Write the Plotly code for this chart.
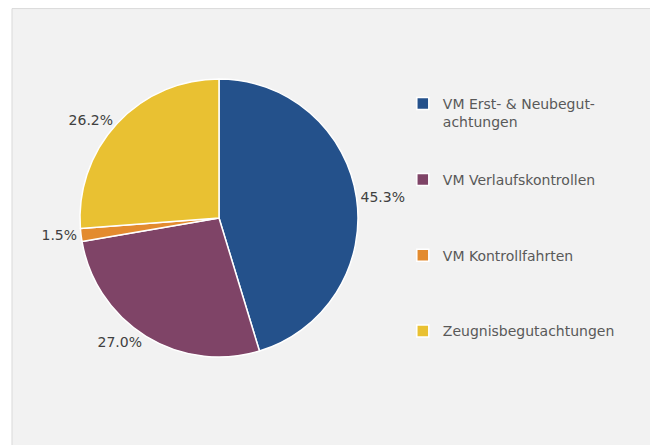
import plotly.graph_objects as go

categories = ["VM Erst- & Neubegut-<br>achtungen", "VM Verlaufskontrollen",
              "VM Kontrollfahrten", "Zeugnisbegutachtungen"]
values = [45.3, 27.0, 1.5, 26.2]
colors = ["#24518B", "#7F4467", "#E38B2F", "#E9C132"]

# blank lines to reproduce legend spacing
pad = ["<br> <br> ", "<br> <br> <br> ", "<br> <br> <br> ", ""]
legend_labels = [c + p for c, p in zip(categories, pad)]

FONT = "DejaVu Sans, Noto Sans, sans-serif"

fig = go.Figure(go.Pie(
    labels=legend_labels,
    values=values,
    sort=False,
    direction="clockwise",
    rotation=0,
    marker=dict(colors=colors, line=dict(color="white", width=1.5)),
    texttemplate="%{percent:.1%}",
    textposition="outside",
    outsidetextfont=dict(size=14, color="#404040", family=FONT),
    domain=dict(x=[72/658, 350/658], y=[96/445, 374/445]),
    hoverinfo="percent+value",
    showlegend=True,
))

fig.update_layout(
    width=658, height=445,
    margin=dict(l=0, r=0, t=0, b=0),
    paper_bgcolor="white",
    font=dict(family=FONT, color="#595959"),
    shapes=[dict(type="rect", xref="paper", yref="paper",
                 x0=4/658, x1=644/658, y0=-0.01, y1=1-0.6/445,
                 fillcolor="#F2F2F2", line=dict(color="#D9D9D9", width=1),
                 layer="below")],
    legend=dict(x=0.600, xanchor="left", y=1-80/445, yanchor="top",
                font=dict(size=14, color="#595959", family=FONT), valign="top",
                bgcolor="rgba(0,0,0,0)", traceorder="normal"),
)

fig.write_html("out.html")
